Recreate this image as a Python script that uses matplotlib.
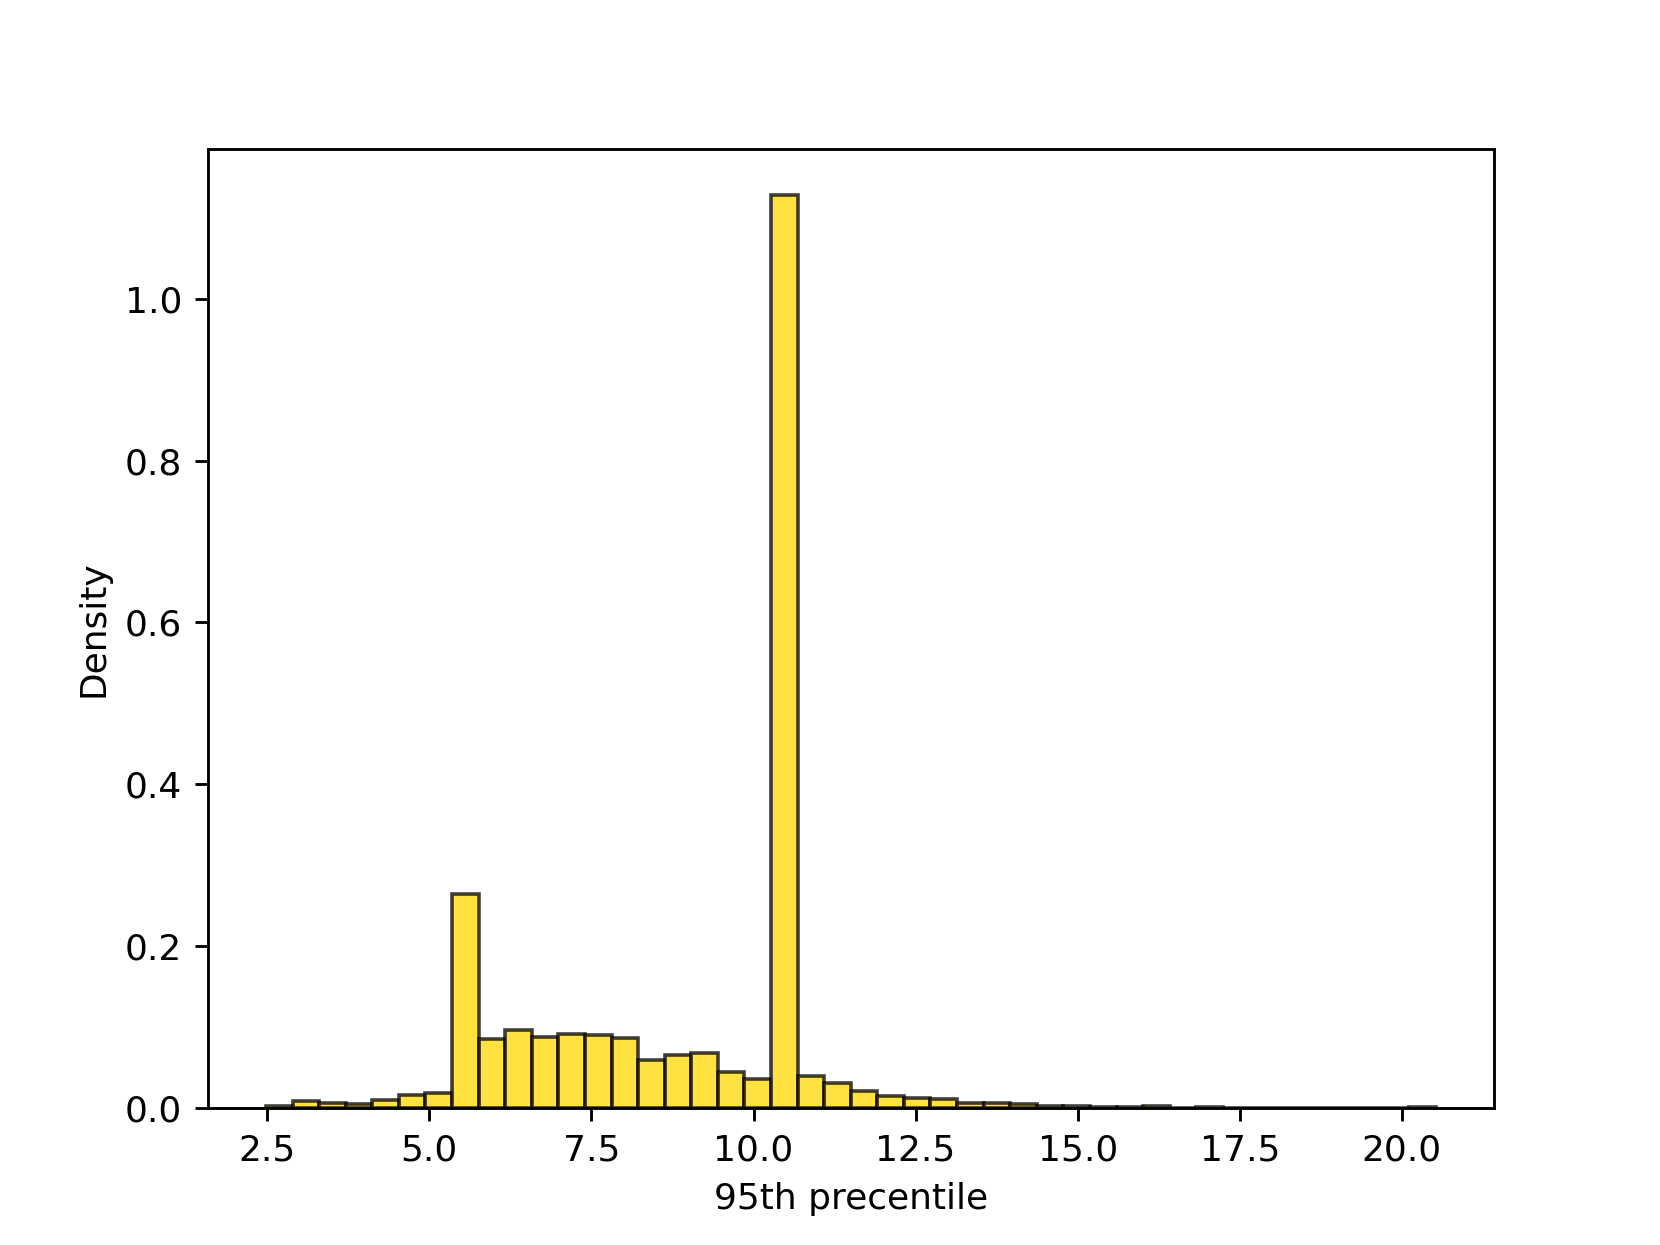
import numpy as np
import matplotlib
matplotlib.use('Agg')
import matplotlib.pyplot as plt

# histogram bin edges (44 bins) and density
bin_start = 2.48
bin_stop = 20.52
n_bins = 44
density = [
    0.002, 0.0085, 0.006, 0.005, 0.0105, 0.0165, 0.019, 0.264,
    0.085, 0.096, 0.088, 0.092, 0.090, 0.086, 0.059, 0.065,
    0.068, 0.044, 0.036, 1.128, 0.040, 0.031, 0.021, 0.015,
    0.012, 0.011, 0.0068, 0.006, 0.005, 0.003, 0.002, 0.0008,
    0.0008, 0.0025, 0.0, 0.0008, 0.0, 0.0, 0.0, 0.0,
    0.0, 0.0, 0.0, 0.001,
]

edges = np.linspace(bin_start, bin_stop, n_bins + 1)
centers = (edges[:-1] + edges[1:]) / 2

fig, ax = plt.subplots(figsize=(6.4, 4.8), dpi=259.375)

ax.hist(centers, bins=edges, weights=density,
        color='gold', edgecolor='black', alpha=0.75)

ax.set_xlabel('95th precentile')
ax.set_ylabel('Density')

plt.savefig('out.png')
